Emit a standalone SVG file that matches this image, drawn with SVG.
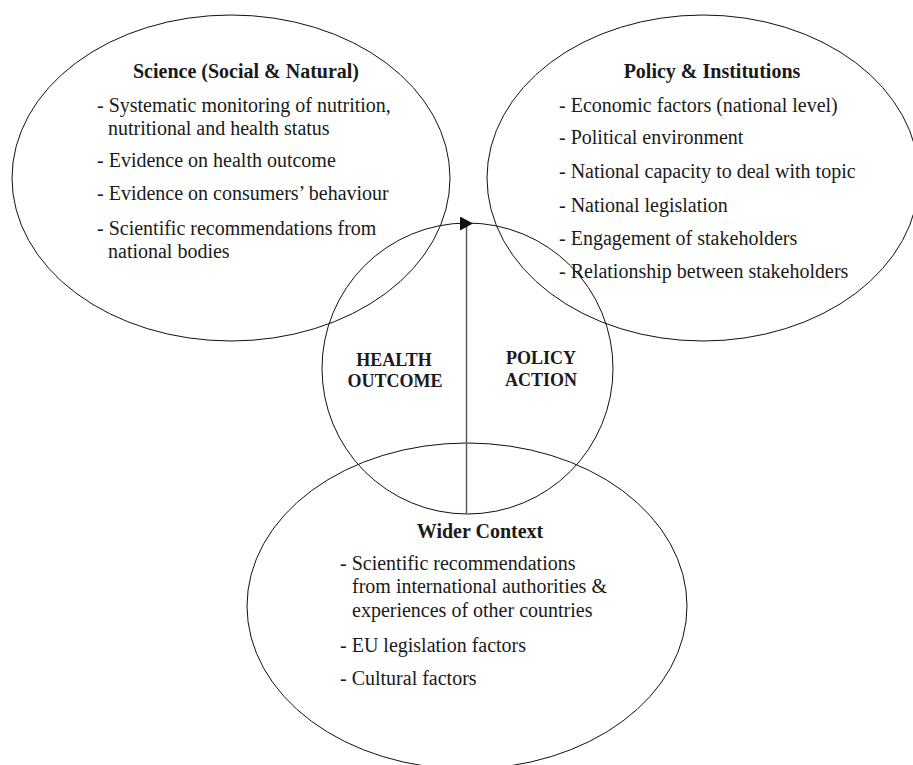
<svg xmlns="http://www.w3.org/2000/svg" width="913" height="765" viewBox="0 0 913 765">
<defs>
<style>
.shape{fill:none;stroke:#111;stroke-width:1}
.t{font-family:"Liberation Serif","Times New Roman",serif;font-size:20px;fill:#1a1a1a}
.h{font-family:"Liberation Serif","Times New Roman",serif;font-size:20px;font-weight:bold;fill:#1a1a1a;text-anchor:middle}
.m{font-family:"Liberation Serif","Times New Roman",serif;font-size:18px;font-weight:bold;fill:#1a1a1a;text-anchor:middle}
.conn{fill:none;stroke:#555;stroke-width:1.4}
</style>
<marker id="arrow" markerUnits="userSpaceOnUse" markerWidth="14" markerHeight="15" refX="7" refY="7" orient="auto">
<path d="M0,0 L13,7 L0,14 z" fill="#111"/>
</marker>
</defs>
<rect width="913" height="765" fill="#fff"/>
<g id="science">
<ellipse class="shape" cx="231" cy="178" rx="219" ry="163"/>
<text class="h" x="246" y="78">Science (Social &amp; Natural)</text>
<text class="t" x="97" y="112">- Systematic monitoring of nutrition,</text>
<text class="t" x="108" y="135">nutritional and health status</text>
<text class="t" x="97" y="167">- Evidence on health outcome</text>
<text class="t" x="97" y="200">- Evidence on consumers’ behaviour</text>
<text class="t" x="97" y="235">- Scientific recommendations from</text>
<text class="t" x="108" y="258">national bodies</text>
</g>
<g id="policy">
<ellipse class="shape" cx="703" cy="178" rx="216" ry="163"/>
<text class="h" x="712" y="78">Policy &amp; Institutions</text>
<text class="t" x="559" y="112">- Economic factors (national level)</text>
<text class="t" x="559" y="144">- Political environment</text>
<text class="t" x="559" y="178">- National capacity to deal with topic</text>
<text class="t" x="559" y="212">- National legislation</text>
<text class="t" x="559" y="245">- Engagement of stakeholders</text>
<text class="t" x="559" y="278">- Relationship between stakeholders</text>
</g>
<g id="centre">
<circle class="shape" cx="467.5" cy="368.5" r="145.5"/>
<text class="m" x="394" y="366">HEALTH</text>
<text class="m" x="395" y="387">OUTCOME</text>
<text class="m" x="541" y="364">POLICY</text>
<text class="m" x="541" y="386">ACTION</text>
</g>
<g id="wider">
<ellipse class="shape" cx="467" cy="606" rx="220" ry="163"/>
<text class="h" x="480" y="538">Wider Context</text>
<text class="t" x="340" y="570">- Scientific recommendations</text>
<text class="t" x="352" y="593">from international authorities &amp;</text>
<text class="t" x="352" y="617">experiences of other countries</text>
<text class="t" x="340" y="652">- EU legislation factors</text>
<text class="t" x="340" y="685">- Cultural factors</text>
</g>
<g id="connectors">
<path class="conn" d="M466.5 514 V223.5 h0.5" marker-end="url(#arrow)"/>
</g>
</svg>
